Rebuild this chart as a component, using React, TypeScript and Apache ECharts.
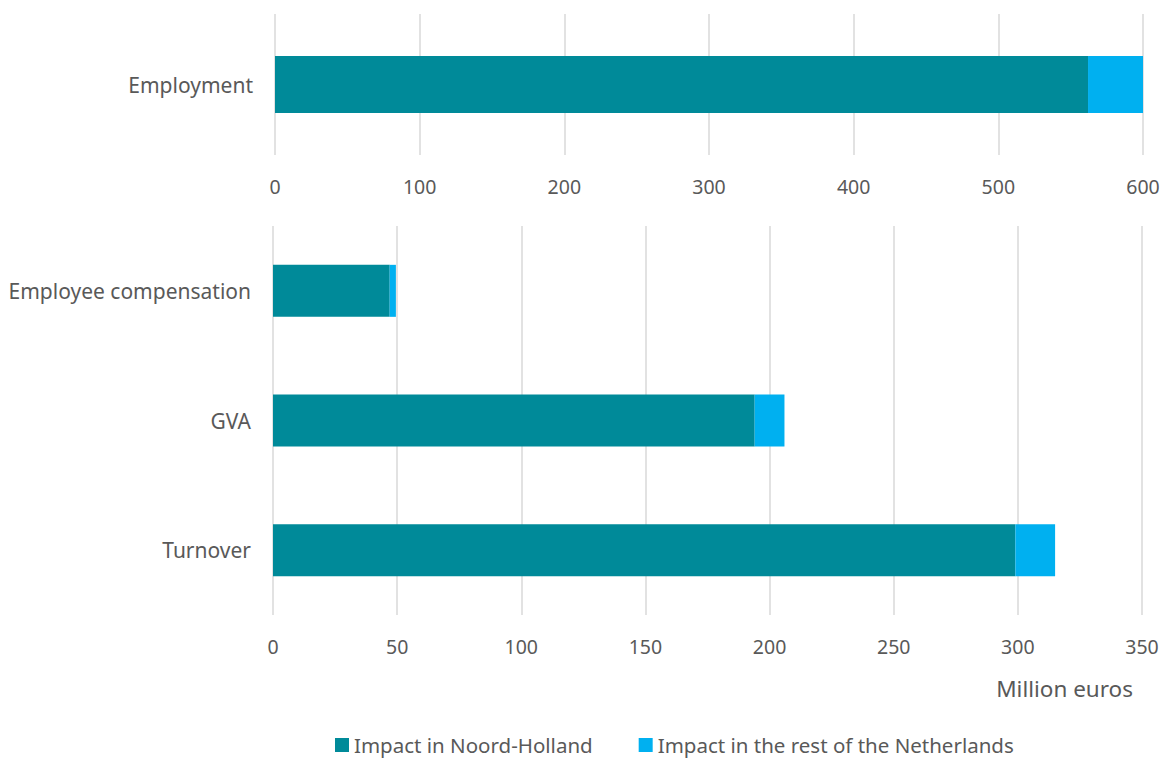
import React, { useEffect, useRef } from "react";
import * as echarts from "echarts";

// Top panel: jobs
const topCategories = ["Employment"];
const topNoordHolland = [562];
const topRestNL = [38];

// Bottom panel: million euros
const bottomCategories = ["Employee compensation", "GVA", "Turnover"];
const bottomNoordHolland = [47, 194, 299];
const bottomRestNL = [2.5, 12, 16];

const seriesNames = ["Impact in Noord-Holland", "Impact in the rest of the Netherlands"];
const unitLabel = "Million euros";

const DARK = "#008A99";
const LIGHT = "#00B0F0";
const TEXT = "#595959";
const GRID = "#D9D9D9";
const FONT = "Noto Sans";

export default function App() {
  const ref = useRef<HTMLDivElement>(null);

  useEffect(() => {
    document.body.style.margin = "0";
    const chart = echarts.init(ref.current!, undefined, { renderer: "svg" });

    const xAxisCommon = {
      type: "value" as const,
      axisLine: { show: false },
      axisTick: { show: false },
      splitLine: { show: true, lineStyle: { color: GRID, width: 1.5 } },
      axisLabel: { color: TEXT, fontSize: 19.5, fontFamily: FONT, margin: 21 },
    };
    const yAxisCommon = {
      type: "category" as const,
      inverse: true,
      axisLine: { show: false },
      axisTick: { show: false },
      axisLabel: { color: TEXT, fontSize: 21, fontFamily: FONT, margin: 22 },
    };

    chart.setOption({
      animation: false,
      grid: [
        { left: 275, right: 20, top: 14, height: 141 },
        { left: 273, right: 21, top: 226, height: 389 },
      ],
      xAxis: [
        { ...xAxisCommon, gridIndex: 0, min: 0, max: 600, interval: 100 },
        { ...xAxisCommon, gridIndex: 1, min: 0, max: 350, interval: 50 },
      ],
      yAxis: [
        { ...yAxisCommon, gridIndex: 0, data: topCategories },
        { ...yAxisCommon, gridIndex: 1, data: bottomCategories },
      ],
      legend: {
        data: seriesNames,
        left: 335,
        top: 734,
        padding: 0,
        itemWidth: 14,
        itemHeight: 14,
        itemGap: 46,
        textStyle: { color: TEXT, fontSize: 20.5, fontFamily: FONT, lineHeight: 22 },
        icon: "rect",
      },
      graphic: [
        {
          type: "text",
          x: 1133,
          y: 688,
          style: {
            text: unitLabel,
            fill: TEXT,
            fontSize: 22.5,
            fontFamily: FONT,
            textAlign: "right",
            textVerticalAlign: "middle",
          },
        },
      ],
      series: [
        {
          name: seriesNames[0],
          type: "bar",
          stack: "top",
          xAxisIndex: 0,
          yAxisIndex: 0,
          barWidth: 57,
          itemStyle: { color: DARK },
          data: topNoordHolland,
        },
        {
          name: seriesNames[1],
          type: "bar",
          stack: "top",
          xAxisIndex: 0,
          yAxisIndex: 0,
          barWidth: 57,
          itemStyle: { color: LIGHT },
          data: topRestNL,
        },
        {
          name: seriesNames[0],
          type: "bar",
          stack: "bottom",
          xAxisIndex: 1,
          yAxisIndex: 1,
          barWidth: 52,
          itemStyle: { color: DARK },
          data: bottomNoordHolland,
        },
        {
          name: seriesNames[1],
          type: "bar",
          stack: "bottom",
          xAxisIndex: 1,
          yAxisIndex: 1,
          barWidth: 52,
          itemStyle: { color: LIGHT },
          data: bottomRestNL,
        },
      ],
    });

    return () => chart.dispose();
  }, []);

  return <div ref={ref} style={{ width: 1163, height: 758 }} />;
}
